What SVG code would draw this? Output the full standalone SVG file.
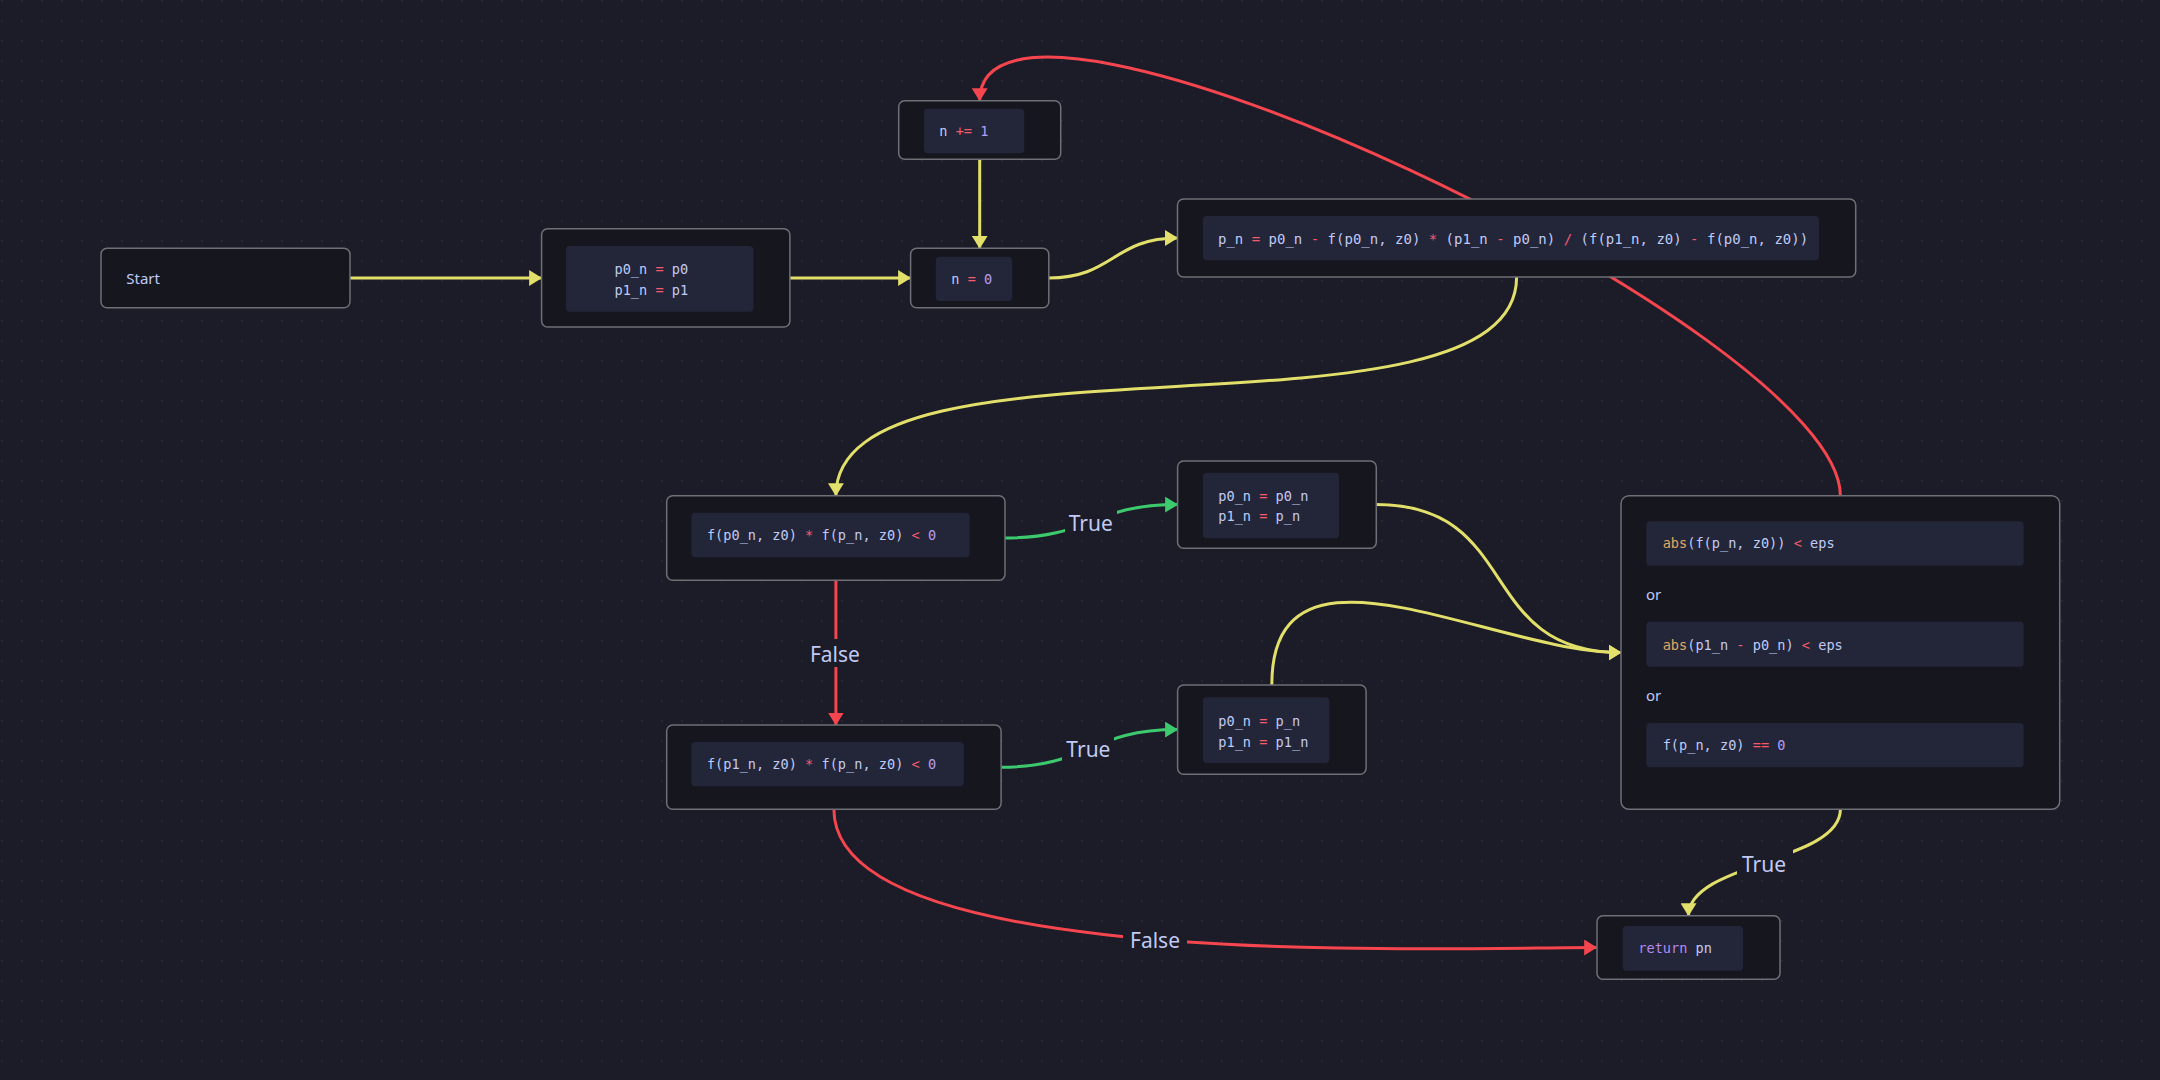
<svg xmlns="http://www.w3.org/2000/svg" width="2160" height="1080" viewBox="0 0 2160 1080">
<defs>
<pattern id="dots" x="0" y="0" width="20" height="20" patternUnits="userSpaceOnUse">
<rect x="1" y="0" width="1.6" height="1.6" fill="#2c2d3c"/>
</pattern>
<marker id="ay" viewBox="0 0 13 16" refX="12.5" refY="8" markerWidth="13" markerHeight="16" markerUnits="userSpaceOnUse" orient="auto"><path d="M0,0 L13,8 L0,16 Z" fill="#e2df6b"/></marker>
<marker id="ar" viewBox="0 0 13 16" refX="12.5" refY="8" markerWidth="13" markerHeight="16" markerUnits="userSpaceOnUse" orient="auto"><path d="M0,0 L13,8 L0,16 Z" fill="#f5464f"/></marker>
<marker id="ag" viewBox="0 0 13 16" refX="12.5" refY="8" markerWidth="13" markerHeight="16" markerUnits="userSpaceOnUse" orient="auto"><path d="M0,0 L13,8 L0,16 Z" fill="#3dca6f"/></marker>
<style>
.node{fill:#16161e;stroke:#6f6f76;stroke-width:1.5}
.code{fill:#232639}
.e{fill:none;stroke-width:3}
.y{stroke:#e2df6b}
.r{stroke:#f5464f}
.g{stroke:#3dca6f}
.lbg{fill:#1b1c27}
.lbl{font-family:"Noto Sans","Liberation Sans",sans-serif;font-size:21px;fill:#c0caf5;text-anchor:middle}
.sans{font-family:"Noto Sans","Liberation Sans",sans-serif;font-size:15px;fill:#c0caf5}
.m{font-family:"DejaVu Sans Mono","Liberation Mono",monospace;font-size:13.6px;fill:#c0caf5;white-space:pre}
.mf{font-size:14px}
.o{fill:#f65a6b}
.n{fill:#b39df3}
.k{fill:#e0a860}
.kw{fill:#b788f0}
</style>
</defs>
<rect width="2160" height="1080" fill="#1b1c27"/>
<rect width="2160" height="1080" fill="url(#dots)"/>

<g id="connectors">
<g id="e-start-init"><path class="e y" d="M350,278 L541.6,278" marker-end="url(#ay)"/></g>
<g id="e-init-n0"><path class="e y" d="M789.9,278 L910.6,278" marker-end="url(#ay)"/></g>
<g id="e-inc-n0"><path class="e y" d="M979.7,159.3 L979.7,248.3" marker-end="url(#ay)"/></g>
<g id="e-n0-formula"><path class="e y" d="M1048.8,278 C1113.2,278 1113.2,238 1177.5,238" marker-end="url(#ay)"/></g>
<g id="e-formula-cond1"><path class="e y" d="M1516.6,277 C1516.6,457 835.9,316 835.9,495.7" marker-end="url(#ay)"/></g>
<g id="e-check-inc"><path class="e r" d="M1840.4,495.7 C1840.4,331 979.7,-76 979.7,100.7" marker-end="url(#ar)"/></g>
<g id="e-cond1-a1">
<path class="e g" d="M1005,538 C1091,538 1091.6,504.6 1177.6,504.6" marker-end="url(#ag)"/>
<rect class="lbg" x="1065" y="508" width="52" height="26"/>
<text class="lbl" x="1090.8" y="530.5">True</text>
</g>
<g id="e-cond1-cond2">
<path class="e r" d="M835.9,580.3 L835.9,725" marker-end="url(#ar)"/>
<rect class="lbg" x="805" y="639" width="62" height="28"/>
<text class="lbl" x="834.9" y="661.5">False</text>
</g>
<g id="e-cond2-a2">
<path class="e g" d="M1001.1,767.2 C1089,767.2 1089.6,729.6 1177.6,729.6" marker-end="url(#ag)"/>
<rect class="lbg" x="1062" y="735" width="52" height="26"/>
<text class="lbl" x="1088.4" y="757">True</text>
</g>
<g id="e-cond2-return">
<path class="e r" d="M833.9,809.3 C833.9,972 1435,947.5 1596.7,947.5" marker-end="url(#ar)"/>
<rect class="lbg" x="1123" y="926" width="64" height="28"/>
<text class="lbl" x="1155" y="947.7">False</text>
</g>
<g id="e-a1-check"><path class="e y" d="M1376.3,504.6 C1523,504.6 1474.4,652.5 1621,652.5" marker-end="url(#ay)"/></g>
<g id="e-a2-check"><path class="e y" d="M1271.8,685 C1271.8,520 1491,652.5 1621,652.5" marker-end="url(#ay)"/></g>
<g id="e-check-return">
<path class="e y" d="M1840.4,809.3 C1840.4,862 1688.5,862.7 1688.5,915.7" marker-end="url(#ay)"/>
<rect class="lbg" x="1737" y="850" width="56" height="27"/>
<text class="lbl" x="1764" y="872">True</text>
</g>
</g>

<g id="node-start">
<rect class="node" x="101" y="248.3" width="249" height="59.4" rx="6"/>
<text class="sans" x="126.3" y="284">Start</text>
</g>

<g id="node-init">
<rect class="node" x="541.6" y="228.7" width="248.3" height="98.3" rx="6"/>
<rect class="code" x="566" y="246" width="187.4" height="65.7" rx="4"/>
<text class="m" x="614.5" y="274"><tspan>p0_n </tspan><tspan class="o">=</tspan><tspan> p0</tspan></text>
<text class="m" x="614.5" y="295"><tspan>p1_n </tspan><tspan class="o">=</tspan><tspan> p1</tspan></text>
</g>

<g id="node-inc">
<rect class="node" x="898.7" y="100.7" width="162" height="58.6" rx="6"/>
<rect class="code" x="923.9" y="108.7" width="100.3" height="44.6" rx="4"/>
<text class="m" x="939.3" y="135.5"><tspan>n </tspan><tspan class="o">+=</tspan><tspan> </tspan><tspan class="n">1</tspan></text>
</g>

<g id="node-n0">
<rect class="node" x="910.6" y="248.3" width="138.2" height="59.4" rx="6"/>
<rect class="code" x="935.8" y="256.7" width="76.5" height="44.3" rx="4"/>
<text class="m" x="951.3" y="283.5"><tspan>n </tspan><tspan class="o">=</tspan><tspan> </tspan><tspan class="n">0</tspan></text>
</g>

<g id="node-formula">
<rect class="node" x="1177.5" y="199" width="678.2" height="78" rx="6"/>
<rect class="code" x="1202.8" y="216" width="616.2" height="44.3" rx="4"/>
<text class="m mf" x="1218" y="244"><tspan>p_n </tspan><tspan class="o">=</tspan><tspan> p0_n </tspan><tspan class="o">-</tspan><tspan> f(p0_n, z0) </tspan><tspan class="o">*</tspan><tspan> (p1_n </tspan><tspan class="o">-</tspan><tspan> p0_n) </tspan><tspan class="o">/</tspan><tspan> (f(p1_n, z0) </tspan><tspan class="o">-</tspan><tspan> f(p0_n, z0))</tspan></text>
</g>

<g id="node-cond1">
<rect class="node" x="666.7" y="495.7" width="338.3" height="84.6" rx="6"/>
<rect class="code" x="691.4" y="512.7" width="278.2" height="44.6" rx="4"/>
<text class="m" x="706.9" y="540"><tspan>f(p0_n, z0) </tspan><tspan class="o">*</tspan><tspan> f(p_n, z0) </tspan><tspan class="o">&lt;</tspan><tspan> </tspan><tspan class="n">0</tspan></text>
</g>

<g id="node-cond2">
<rect class="node" x="666.7" y="725" width="334.4" height="84.3" rx="6"/>
<rect class="code" x="691.4" y="742" width="272.4" height="44.3" rx="4"/>
<text class="m" x="706.9" y="769"><tspan>f(p1_n, z0) </tspan><tspan class="o">*</tspan><tspan> f(p_n, z0) </tspan><tspan class="o">&lt;</tspan><tspan> </tspan><tspan class="n">0</tspan></text>
</g>

<g id="node-assign1">
<rect class="node" x="1177.6" y="461" width="198.7" height="87.3" rx="6"/>
<rect class="code" x="1202.8" y="472.7" width="136.2" height="65.6" rx="4"/>
<text class="m" x="1218.3" y="500.5"><tspan>p0_n </tspan><tspan class="o">=</tspan><tspan> p0_n</tspan></text>
<text class="m" x="1218.3" y="521"><tspan>p1_n </tspan><tspan class="o">=</tspan><tspan> p_n</tspan></text>
</g>

<g id="node-assign2">
<rect class="node" x="1177.6" y="685" width="188.5" height="89.3" rx="6"/>
<rect class="code" x="1202.8" y="697.3" width="126.5" height="65.7" rx="4"/>
<text class="m" x="1218.3" y="726"><tspan>p0_n </tspan><tspan class="o">=</tspan><tspan> p_n</tspan></text>
<text class="m" x="1218.3" y="747"><tspan>p1_n </tspan><tspan class="o">=</tspan><tspan> p1_n</tspan></text>
</g>

<g id="node-check">
<rect class="node" x="1621" y="495.7" width="438.7" height="313.6" rx="8"/>
<rect class="code" x="1646.3" y="521.3" width="377.4" height="44.4" rx="4"/>
<text class="m" x="1662.7" y="548"><tspan class="k">abs</tspan><tspan>(f(p_n, z0)) </tspan><tspan class="o">&lt;</tspan><tspan> eps</tspan></text>
<text class="sans" x="1646" y="600">or</text>
<rect class="code" x="1646.3" y="621.7" width="377.4" height="45" rx="4"/>
<text class="m" x="1662.7" y="649.5"><tspan class="k">abs</tspan><tspan>(p1_n </tspan><tspan class="o">-</tspan><tspan> p0_n) </tspan><tspan class="o">&lt;</tspan><tspan> eps</tspan></text>
<text class="sans" x="1646" y="701">or</text>
<rect class="code" x="1646.3" y="723" width="377.4" height="44.3" rx="4"/>
<text class="m" x="1662.7" y="750"><tspan>f(p_n, z0) </tspan><tspan class="o">==</tspan><tspan> </tspan><tspan class="n">0</tspan></text>
</g>

<g id="node-return">
<rect class="node" x="1597" y="915.7" width="183" height="63.6" rx="6"/>
<rect class="code" x="1622.7" y="926" width="120.3" height="44.7" rx="4"/>
<text class="m" x="1638.3" y="953"><tspan class="kw">return</tspan><tspan> pn</tspan></text>
</g>
</svg>
